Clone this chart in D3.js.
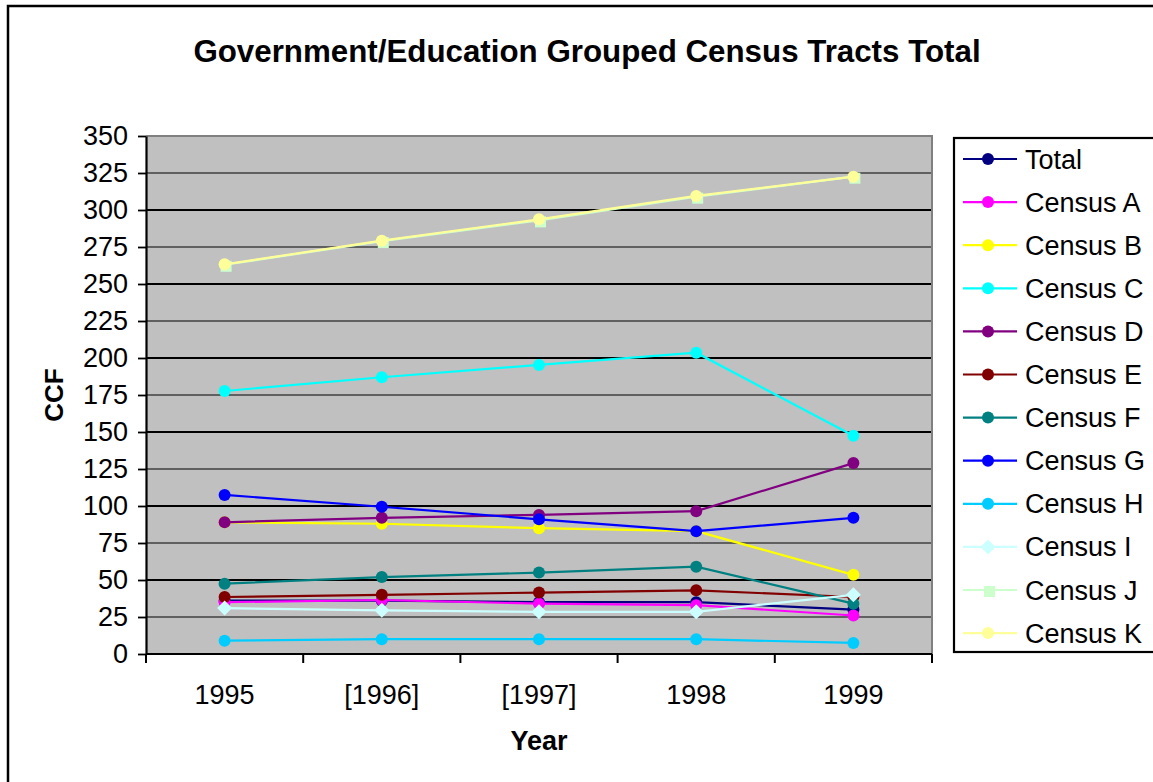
<!DOCTYPE html>
<html>
<head>
<meta charset="utf-8">
<script src="https://cdn.jsdelivr.net/npm/d3@7"></script>
<style>
  html, body { margin: 0; padding: 0; background: #fff; }
  svg { display: block; font-family: "Liberation Sans", Arial, sans-serif; }
</style>
</head>
<body>
<svg id="chart" width="1153" height="782"></svg>
<script>
// Years on the category axis and their printed labels
const years = ["1995", "1996", "1997", "1998", "1999"];
const yearLabels = ["1995", "[1996]", "[1997]", "1998", "1999"];
const yTicks = [0, 25, 50, 75, 100, 125, 150, 175, 200, 225, 250, 275, 300, 325, 350];

// CCF per series, 1995–1999
const total   = [36, 36, 35, 35, 30];
const censusA = [35, 36.5, 34, 33, 26];
const censusB = [89, 88, 85, 83, 53.5];
const censusC = [177.7, 187, 195.3, 203.6, 147.5];
const censusD = [89, 92, 94, 96.5, 129];
const censusE = [38.5, 40, 41.5, 43, 38.5];
const censusF = [47.5, 52, 55, 59, 34];
const censusG = [107.5, 99.5, 91, 83, 92];
const censusH = [9, 10, 10, 10, 7.5];
const censusI = [31, 29.5, 28.5, 28.5, 40];
const censusJ = [263, 279, 293, 309, 322.5];
const censusK = [263.3, 279.3, 293.7, 309.5, 322.5];

const seriesNames  = ["Total", "Census A", "Census B", "Census C", "Census D", "Census E",
                      "Census F", "Census G", "Census H", "Census I", "Census J", "Census K"];
const seriesValues = [total, censusA, censusB, censusC, censusD, censusE,
                      censusF, censusG, censusH, censusI, censusJ, censusK];
const seriesColors = ["#000080", "#FF00FF", "#FFFF00", "#00FFFF", "#800080", "#800000",
                      "#008080", "#0000FF", "#00CCFF", "#CCFFFF", "#CCFFCC", "#FFFF99"];
const seriesMarkers = ["circle", "circle", "circle", "circle", "circle", "circle",
                       "circle", "circle", "circle", "diamond", "square", "circle"];

const svg = d3.select("#chart");

// Outer chart frame (runs off the right and bottom edges)
svg.append("rect")
  .attr("x", 8).attr("y", 6).attr("width", 1300).attr("height", 900)
  .attr("fill", "#fff").attr("stroke", "#000").attr("stroke-width", 2.5);

const plot = { left: 146, right: 932, top: 136, bottom: 654 };

const x = d3.scaleBand().domain(years).range([plot.left, plot.right]).padding(0);
const xc = d => x(d) + x.bandwidth() / 2;
const y = d3.scaleLinear().domain([0, 350]).range([plot.bottom, plot.top]);

// Plot background
svg.append("rect")
  .attr("x", plot.left).attr("y", plot.top)
  .attr("width", plot.right - plot.left).attr("height", plot.bottom - plot.top)
  .attr("fill", "#C0C0C0");

// Horizontal gridlines
svg.append("g").selectAll("line")
  .data(yTicks.filter(v => v > 0 && v < 350))
  .join("line")
  .attr("x1", plot.left).attr("x2", plot.right)
  .attr("y1", d => y(d)).attr("y2", d => y(d))
  .attr("stroke", "#000")
  .attr("stroke-width", d => d % 50 === 0 ? 1.8 : 1.2);

// Gray top and right border of the plot area
svg.append("path")
  .attr("d", `M${plot.left},${plot.top}H${plot.right}V${plot.bottom}`)
  .attr("fill", "none").attr("stroke", "#808080").attr("stroke-width", 2);

// Y axis
const yAxis = svg.append("g")
  .attr("transform", `translate(${plot.left},0)`)
  .call(d3.axisLeft(y).tickValues(yTicks).tickSize(8).tickPadding(10).tickSizeOuter(0));
yAxis.select(".domain").attr("stroke", "#000").attr("stroke-width", 2.2);
yAxis.selectAll(".tick line").attr("stroke", "#000").attr("stroke-width", 1.8);
yAxis.selectAll(".tick text")
  .attr("font-size", 27).attr("fill", "#000")
  .attr("font-family", "'Liberation Sans', Arial, sans-serif");

// X axis: baseline with ticks at category boundaries
svg.append("line")
  .attr("x1", plot.left).attr("x2", plot.right)
  .attr("y1", plot.bottom).attr("y2", plot.bottom)
  .attr("stroke", "#000").attr("stroke-width", 2.2);
const edges = years.map(d => x(d)).concat([x.range()[1]]);
svg.append("g").selectAll("line")
  .data(edges).join("line")
  .attr("x1", d => d).attr("x2", d => d)
  .attr("y1", plot.bottom).attr("y2", plot.bottom + 9)
  .attr("stroke", "#000").attr("stroke-width", 2);
svg.append("g").selectAll("text")
  .data(years).join("text")
  .attr("x", d => xc(d)).attr("y", 704)
  .attr("text-anchor", "middle").attr("font-size", 27).attr("fill", "#000")
  .text((d, i) => yearLabels[i]);

// Titles
svg.append("text")
  .attr("x", 587).attr("y", 62).attr("text-anchor", "middle")
  .attr("font-size", 31.3).attr("font-weight", "bold").attr("fill", "#000")
  .text("Government/Education Grouped Census Tracts Total");
svg.append("text")
  .attr("x", 539).attr("y", 750).attr("text-anchor", "middle")
  .attr("font-size", 27).attr("font-weight", "bold").attr("fill", "#000")
  .text("Year");
svg.append("text")
  .attr("transform", "translate(63,395) rotate(-90)")
  .attr("text-anchor", "middle")
  .attr("font-size", 26).attr("font-weight", "bold").attr("fill", "#000")
  .text("CCF");

// Marker shapes
function drawMarker(g, type, color, cx, cy) {
  if (type === "circle") {
    g.append("circle").attr("cx", cx).attr("cy", cy).attr("r", 6).attr("fill", color);
  } else if (type === "diamond") {
    const r = 7.5;
    g.append("path")
      .attr("d", `M${cx},${cy - r}L${cx + r},${cy}L${cx},${cy + r}L${cx - r},${cy}Z`)
      .attr("fill", color);
  } else if (type === "square") {
    const s = 5.5;
    g.append("rect").attr("x", cx - s + 1.5).attr("y", cy - s + 1.5)
      .attr("width", 2 * s).attr("height", 2 * s).attr("fill", color);
  }
}

// Series lines and markers
const line = d3.line().x((d, i) => xc(years[i])).y(d => y(d));
seriesValues.forEach((vals, si) => {
  const g = svg.append("g");
  g.append("path").datum(vals)
    .attr("d", line).attr("fill", "none")
    .attr("stroke", seriesColors[si]).attr("stroke-width", 2.2);
  vals.forEach((v, i) => drawMarker(g, seriesMarkers[si], seriesColors[si], xc(years[i]), y(v)));
});

// Legend
const legend = svg.append("g");
legend.append("rect")
  .attr("x", 954).attr("y", 138).attr("width", 400).attr("height", 514)
  .attr("fill", "#fff").attr("stroke", "#000").attr("stroke-width", 2.2);
seriesNames.forEach((name, i) => {
  const cy = 159 + i * 43.1;
  const g = legend.append("g");
  g.append("line").attr("x1", 963).attr("x2", 1017).attr("y1", cy).attr("y2", cy)
    .attr("stroke", seriesColors[i]).attr("stroke-width", 2.2);
  drawMarker(g, seriesMarkers[i], seriesColors[i], 988, cy);
  g.append("text").attr("x", 1025).attr("y", cy + 9.5)
    .attr("font-size", 27).attr("fill", "#000").text(name);
});
</script>
</body>
</html>
